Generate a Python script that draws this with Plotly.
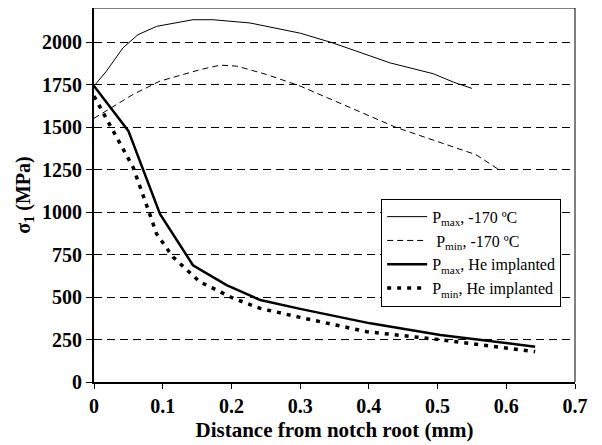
import plotly.graph_objects as go

# Data
x_pmax_170 = [0.0, 0.018, 0.042, 0.064, 0.091, 0.144, 0.173, 0.227, 0.30, 0.348, 0.431, 0.494, 0.523, 0.55]
y_pmax_170 = [1741, 1828, 1965, 2043, 2092, 2131, 2131, 2112, 2052, 1994, 1877, 1813, 1764, 1727]

x_pmin_170 = [0.0, 0.057, 0.096, 0.155, 0.184, 0.208, 0.251, 0.30, 0.44, 0.556, 0.59]
y_pmin_170 = [1551, 1692, 1770, 1838, 1864, 1858, 1809, 1741, 1497, 1337, 1247]

x_pmax_he = [0.0, 0.05, 0.096, 0.144, 0.193, 0.242, 0.30, 0.402, 0.504, 0.642]
y_pmax_he = [1741, 1477, 989, 687, 570, 482, 430, 345, 277, 208]

x_pmin_he = [0.0, 0.028, 0.057, 0.081, 0.091, 0.115, 0.154, 0.203, 0.242, 0.30, 0.397, 0.494, 0.642]
y_pmin_he = [1682, 1477, 1262, 989, 872, 735, 589, 492, 433, 380, 296, 253, 179]

names = ["P<sub>max</sub>, -170 ºC", " P<sub>min</sub>, -170 ºC",
         "P<sub>max</sub>, He implanted", "P<sub>min</sub>, He implanted"]

x_ticks = [0, 0.1, 0.2, 0.3, 0.4, 0.5, 0.6, 0.7]
x_tick_labels = ["0", "0.1", "0.2", "0.3", "0.4", "0.5", "0.6", "0.7"]
y_ticks = [0, 250, 500, 750, 1000, 1250, 1500, 1750, 2000]

FONT = "Liberation Serif"

fig = go.Figure()
fig.add_trace(go.Scatter(x=x_pmax_170, y=y_pmax_170, mode="lines", name=names[0],
                         line=dict(color="black", width=1)))
fig.add_trace(go.Scatter(x=x_pmin_170, y=y_pmin_170, mode="lines", name=names[1],
                         line=dict(color="black", width=1, dash="6px,4px")))
fig.add_trace(go.Scatter(x=x_pmax_he, y=y_pmax_he, mode="lines", name=names[2],
                         line=dict(color="black", width=2.5)))
fig.add_trace(go.Scatter(x=x_pmin_he, y=y_pmin_he, mode="lines", name=names[3],
                         line=dict(color="black", width=3.5, dash="4px,6px")))

# thin top and right border
fig.add_shape(type="line", xref="paper", yref="paper", x0=0, x1=1, y0=1, y1=1,
              line=dict(color="black", width=1))
fig.add_shape(type="line", xref="paper", yref="paper", x0=1, x1=1, y0=0, y1=1,
              line=dict(color="black", width=1))

fig.update_layout(
    width=594, height=437,
    margin=dict(l=86, r=27, t=0, b=63),
    plot_bgcolor="white", paper_bgcolor="white",
    font=dict(family=FONT, color="black"),
    showlegend=True,
    legend=dict(x=0.597, y=0.49, xanchor="left", yanchor="top",
                bordercolor="black", borderwidth=1, bgcolor="white",
                font=dict(family=FONT, size=16, color="black"),
                tracegroupgap=0, itemwidth=40),
    xaxis=dict(range=[0, 0.7], tickvals=x_ticks, ticktext=x_tick_labels,
               showgrid=False, zeroline=False,
               showline=True, linecolor="black", linewidth=2,
               ticks="outside", ticklen=5, tickwidth=1, tickcolor="black",
               tickfont=dict(family=FONT, size=20, color="black", weight="bold"),
               title=dict(text="<b>Distance from notch root (mm)</b>",
                          font=dict(family=FONT, size=21), standoff=6)),
    yaxis=dict(range=[0, 2200], tickvals=y_ticks,
               showgrid=True, gridcolor="black", gridwidth=1, griddash="8px,5px",
               zeroline=False,
               showline=True, linecolor="black", linewidth=2,
               ticks="outside", ticklen=6, tickwidth=1, tickcolor="black",
               tickfont=dict(family=FONT, size=20, color="black", weight="bold"),
               title=dict(text="<b>σ<sub>1</sub> (MPa)</b>",
                          font=dict(family=FONT, size=20), standoff=6)),
)

fig.write_html("out.html")
